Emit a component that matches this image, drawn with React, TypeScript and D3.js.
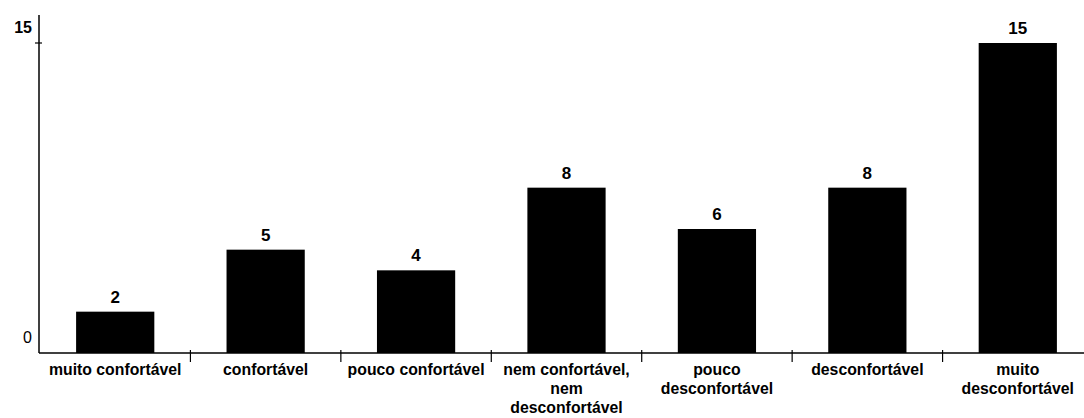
import React from "react";
import * as d3 from "d3";

const categories: string[][] = [
  ["muito confortável"],
  ["confortável"],
  ["pouco confortável"],
  ["nem confortável,", "nem", "desconfortável"],
  ["pouco", "desconfortável"],
  ["desconfortável"],
  ["muito", "desconfortável"],
];
const values: number[] = [2, 5, 4, 8, 6, 8, 15];
const yTicks: number[] = [0, 15];

const W = 1084;
const H = 418;

export default function App() {
  const x = d3
    .scaleBand<number>()
    .domain(d3.range(values.length))
    .range([40, 1093])
    .padding(0);
  const y = d3.scaleLinear().domain([0, 15]).range([353, 43]);
  const bw = x.bandwidth() * 0.52;
  const font = "'Liberation Sans', Arial, sans-serif";

  return (
    <svg
      width={W}
      height={H}
      style={{ position: "absolute", left: 0, top: 0, background: "#fff" }}
    >
      {/* y axis */}
      <line x1={39} x2={39} y1={y(0)} y2={15} stroke="#000" strokeWidth={1.5} />
      {yTicks.map((t) => (
        <g key={t}>
          {t > 0 && (
            <line x1={35} x2={42} y1={y(t)} y2={y(t)} stroke="#000" strokeWidth={1.2} />
          )}
          <text
            x={32}
            y={y(t) - 16}
            textAnchor="end"
            dominantBaseline="central"
            fontFamily={font}
            fontSize={16}
            fontWeight={t > 0 ? "bold" : "normal"}
          >
            {t}
          </text>
        </g>
      ))}
      {/* x axis */}
      <line x1={39} x2={W} y1={y(0)} y2={y(0)} stroke="#000" strokeWidth={1.5} />
      {d3.range(1, values.length).map((i) => (
        <line
          key={i}
          x1={x(i)!}
          x2={x(i)!}
          y1={y(0) - 3}
          y2={y(0) + 9}
          stroke="#000"
          strokeWidth={1.2}
        />
      ))}
      {/* bars */}
      {values.map((v, i) => {
        const cx = x(i)! + x.bandwidth() / 2;
        return (
          <g key={i}>
            <rect x={cx - bw / 2} y={y(v)} width={bw} height={y(0) - y(v)} fill="#000" />
            <text
              x={cx}
              y={y(v) - 9}
              textAnchor="middle"
              fontFamily={font}
              fontSize={17}
              fontWeight="bold"
            >
              {v}
            </text>
            {categories[i].map((line, j) => (
              <text
                key={j}
                x={cx}
                y={375 + j * 19}
                textAnchor="middle"
                fontFamily={font}
                fontSize={15.8}
                fontWeight="bold"
              >
                {line}
              </text>
            ))}
          </g>
        );
      })}
    </svg>
  );
}
